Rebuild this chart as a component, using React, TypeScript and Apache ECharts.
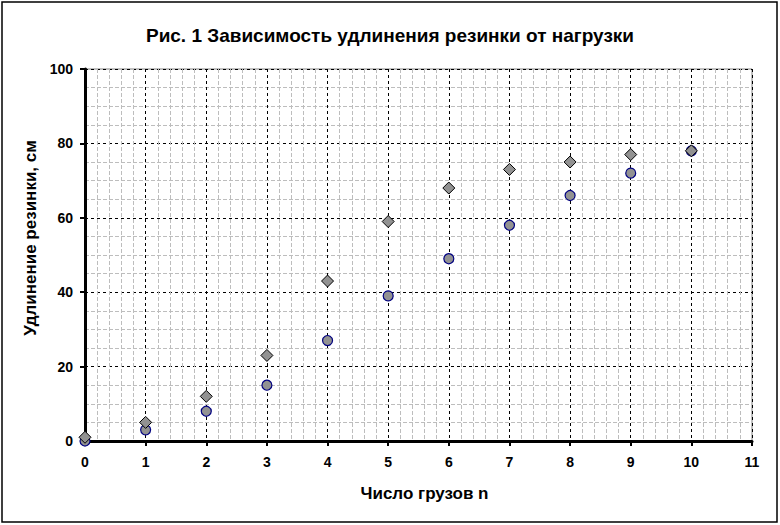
import React, { useEffect, useRef } from "react";
import * as echarts from "echarts";

const titleText = "Рис. 1 Зависимость удлинения резинки от нагрузки";
const xName = "Число грузов n";
const yName = "Удлинение резинки, см";
const loads = [0, 1, 2, 3, 4, 5, 6, 7, 8, 9, 10];
const seriesDiamond = [1, 5, 12, 23, 43, 59, 68, 73, 75, 77, 78];
const seriesCircle = [0, 3, 8, 15, 27, 39, 49, 58, 66, 72, 78];

const FONT = "'Liberation Sans', Arial, sans-serif";

export default function App() {
  const ref = useRef<HTMLDivElement>(null);
  useEffect(() => {
    if (!ref.current) return;
    const chart = echarts.init(ref.current, null, { renderer: "svg" });
    const lbl = { color: "#000", fontFamily: FONT, fontWeight: "bold" as const, fontSize: 14 };
    const nameStyle = { color: "#000", fontFamily: FONT, fontWeight: "bold" as const, fontSize: 17 };
    chart.setOption({
      animation: false,
      backgroundColor: "#fff",
      title: {
        text: titleText,
        left: "center",
        top: 21,
        textStyle: { color: "#000", fontFamily: FONT, fontWeight: "bold", fontSize: 19 },
      },
      grid: {
        left: 85,
        top: 69,
        right: 28,
        bottom: 84,
        show: true,
        borderColor: "#808080",
        borderWidth: 1,
        backgroundColor: "transparent",
      },
      xAxis: {
        type: "value",
        min: 0,
        max: 11,
        interval: 1,
        name: xName,
        nameLocation: "middle",
        nameGap: 44,
        nameTextStyle: { ...nameStyle, padding: [0, 0, 0, 12] },
        axisLine: { show: true, onZero: false, lineStyle: { color: "#000", width: 3 } },
        axisTick: { show: true, inside: false, length: 5, lineStyle: { color: "#000", width: 2 } },
        axisLabel: { ...lbl, margin: 14 },
        splitLine: { show: true, lineStyle: { color: "#000", width: 1, type: [3, 3] } },
        minorTick: { show: false, splitNumber: 5 },
        minorSplitLine: { show: true, lineStyle: { color: "#bdbdbd", width: 1, type: [4, 2] } },
      },
      yAxis: {
        type: "value",
        min: 0,
        max: 100,
        interval: 20,
        name: yName,
        nameLocation: "middle",
        nameGap: 42,
        nameTextStyle: { ...nameStyle, padding: [0, 0, 0, 34] },
        axisLine: { show: true, onZero: false, lineStyle: { color: "#000", width: 3 } },
        axisTick: { show: true, inside: false, length: 5, lineStyle: { color: "#000", width: 2 } },
        axisLabel: { ...lbl, margin: 12 },
        splitLine: { show: true, lineStyle: { color: "#000", width: 1, type: [3, 3] } },
        minorTick: { show: false, splitNumber: 4 },
        minorSplitLine: { show: true, lineStyle: { color: "#bdbdbd", width: 1, type: [4, 2] } },
      },
      series: [
        {
          type: "scatter",
          data: loads.map((x, i) => [x, seriesCircle[i]]),
          symbol: "circle",
          symbolSize: 10,
          itemStyle: { color: "#929292", borderColor: "#000080", borderWidth: 1.2, opacity: 1 },
          z: 3,
        },
        {
          type: "scatter",
          data: loads.map((x, i) => [x, seriesDiamond[i]]),
          symbol: "diamond",
          symbolSize: 12,
          itemStyle: { color: "#929292", borderColor: "#000", borderWidth: 1, opacity: 1 },
          z: 4,
        },
      ],
      graphic: [
        {
          type: "rect",
          shape: { x: 2, y: 2, width: 775, height: 520 },
          style: { fill: "none", stroke: "#000", lineWidth: 1.5 },
          silent: true,
          z: 100,
        },
      ],
    });
    return () => chart.dispose();
  }, []);
  return (
    <div
      ref={ref}
      style={{ position: "fixed", left: 0, top: 0, width: 780, height: 525, background: "#fff" }}
    />
  );
}
